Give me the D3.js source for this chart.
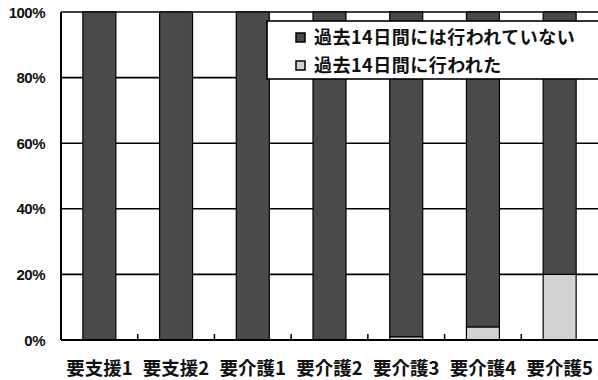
<html>
<head>
<meta charset="utf-8">
<title>要介護度別</title>
<style>
  body { margin: 0; background: #fff; }
  text { font-family: "Noto Sans CJK JP", "Liberation Sans", sans-serif; font-weight: bold; fill: #111; }
</style>
</head>
<body>
<svg id="chart" width="598" height="380"></svg>
<script src="https://cdnjs.cloudflare.com/ajax/libs/d3/7.8.5/d3.min.js"></script>
<script>
var categories = ["要支援1", "要支援2", "要介護1", "要介護2", "要介護3", "要介護4", "要介護5"];
// percent of people, two stacked series
var notPerformed = [100, 100, 100, 100, 99, 96, 80];
var performed = [0, 0, 0, 0, 1, 4, 20];
var yTicks = [0, 20, 40, 60, 80, 100];
var tickLabels = ["0%", "20%", "40%", "60%", "80%", "100%"];
var seriesNames = ["過去14日間には行われていない", "過去14日間に行われた"];

var svg = d3.select("#chart");
var plotLeft = 61, plotRight = 598, plotTop = 12, plotBottom = 340;
var darkFill = "#4a4a4a", lightFill = "#d2d2d2";

var x = d3.scaleBand().domain(categories).range([plotLeft, plotRight]).paddingInner(0.57).paddingOuter(0.285);
var y = d3.scaleLinear().domain([0, 100]).range([plotBottom, plotTop]);

// gridlines
svg.append("g").selectAll("line").data(yTicks.slice(1)).enter()
  .append("line")
  .attr("x1", plotLeft).attr("x2", plotRight)
  .attr("y1", function (d) { return y(d); }).attr("y2", function (d) { return y(d); })
  .attr("stroke", "#000").attr("stroke-width", 1.6);

// stacked bars
var rows = categories.map(function (c, i) { return { cat: c, perf: performed[i], notp: notPerformed[i] }; });
var bars = svg.append("g");
bars.selectAll("rect.low").data(rows).enter()
  .append("rect").attr("class", "low")
  .attr("x", function (d) { return x(d.cat); })
  .attr("width", x.bandwidth())
  .attr("y", function (d) { return y(d.perf); })
  .attr("height", function (d) { return y(0) - y(d.perf); })
  .attr("fill", lightFill).attr("stroke", "#000").attr("stroke-width", 1.2);
bars.selectAll("rect.high").data(rows).enter()
  .append("rect").attr("class", "high")
  .attr("x", function (d) { return x(d.cat); })
  .attr("width", x.bandwidth())
  .attr("y", function (d) { return y(d.perf + d.notp); })
  .attr("height", function (d) { return y(d.perf) - y(d.perf + d.notp); })
  .attr("fill", darkFill).attr("stroke", "#000").attr("stroke-width", 1.2);

// axes frame
svg.append("line").attr("x1", plotLeft).attr("x2", plotLeft).attr("y1", plotTop).attr("y2", plotBottom)
  .attr("stroke", "#000").attr("stroke-width", 2);
svg.append("line").attr("x1", plotLeft).attr("x2", plotRight).attr("y1", plotBottom).attr("y2", plotBottom)
  .attr("stroke", "#000").attr("stroke-width", 2.2);

// category boundary ticks (pointing up)
var gap = x.step() - x.bandwidth();
svg.append("g").selectAll("line").data(categories.slice(0, -1)).enter()
  .append("line")
  .attr("x1", function (d) { return x(d) + x.bandwidth() + gap / 2; })
  .attr("x2", function (d) { return x(d) + x.bandwidth() + gap / 2; })
  .attr("y1", plotBottom).attr("y2", plotBottom - 6)
  .attr("stroke", "#000").attr("stroke-width", 1.5);

// y labels
svg.append("g").selectAll("text").data(yTicks).enter()
  .append("text")
  .attr("x", 45)
  .attr("y", function (d) { return y(d) + 5.5; })
  .attr("text-anchor", "end")
  .style("font-family", "'Liberation Sans', Arial, sans-serif")
  .style("font-size", "15px")
  .style("letter-spacing", "-0.5px")
  .text(function (d, i) { return tickLabels[i]; });

// x labels
svg.append("g").selectAll("text").data(categories).enter()
  .append("text")
  .attr("x", function (d) { return x(d) + x.bandwidth() / 2; })
  .attr("y", 375)
  .attr("text-anchor", "middle")
  .style("font-size", "18.5px")
  .text(function (d) { return d; });

// legend
var lg = svg.append("g");
lg.append("rect").attr("x", 267).attr("y", 21).attr("width", 340).attr("height", 58)
  .attr("fill", "#fff").attr("stroke", "#000").attr("stroke-width", 1.6);
var legendFills = [darkFill, lightFill];
seriesNames.forEach(function (name, i) {
  var cy = 37.5 + i * 28;
  lg.append("rect").attr("x", 296).attr("y", cy - 4.5).attr("width", 9).attr("height", 9)
    .attr("fill", legendFills[i]).attr("stroke", "#000").attr("stroke-width", 1.5);
  lg.append("text").attr("x", 314).attr("y", cy + 6.5)
    .style("font-size", "18px").style("letter-spacing", "0.5px")
    .text(name);
});
</script>
</body>
</html>
